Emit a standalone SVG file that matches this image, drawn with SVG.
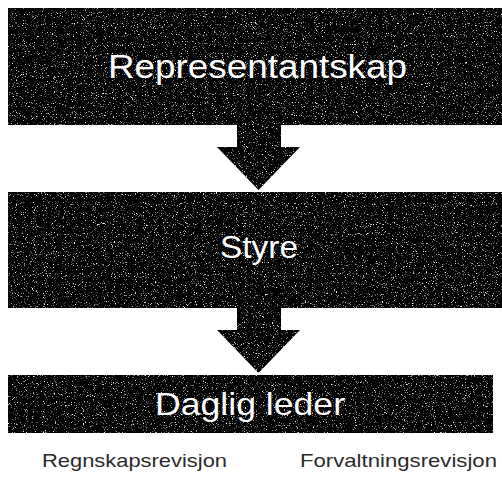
<svg xmlns="http://www.w3.org/2000/svg" width="502" height="477" viewBox="0 0 502 477">
<style>
.box{fill:#000}
.arr{fill:#000}
.t{font-family:"Liberation Sans",Arial,sans-serif;fill:#fff}
.lbl{font-family:"Liberation Sans",Arial,sans-serif;fill:#2a2a2a;font-size:19px}
</style>
<defs>
<filter id="speck" x="0" y="0" width="100%" height="100%" color-interpolation-filters="sRGB">
<feTurbulence type="fractalNoise" baseFrequency="0.9" numOctaves="2" seed="7" result="n"/>
<feColorMatrix in="n" type="matrix" values="0 0 0 0 1  0 0 0 0 1  0 0 0 0 1  1 0 0 0 0" result="w"/>
<feComponentTransfer in="w" result="d"><feFuncA type="linear" slope="5" intercept="-3.0"/></feComponentTransfer>
<feComposite in="d" in2="SourceAlpha" operator="in" result="dots"/>
<feMerge><feMergeNode in="SourceGraphic"/><feMergeNode in="dots"/></feMerge>
</filter>
</defs>
<rect width="502" height="477" fill="#fff"/>
<g id="connectors">
<polygon class="arr" filter="url(#speck)" points="237,124 281,124 281,147 300,147 258.5,190 217,147 237,147"/>
<polygon class="arr" filter="url(#speck)" points="237,307 281,307 281,330 300,330 258.5,373 217,330 237,330"/>
</g>
<g id="representantskap">
<rect class="box" filter="url(#speck)" x="8" y="8" width="494" height="117"/>
<text class="t" x="108" y="78" font-size="34" textLength="299" lengthAdjust="spacingAndGlyphs">Representantskap</text>
</g>
<g id="styre">
<rect class="box" filter="url(#speck)" x="8" y="192" width="494" height="116"/>
<text class="t" x="220" y="258" font-size="32" textLength="78" lengthAdjust="spacingAndGlyphs">Styre</text>
</g>
<g id="daglig-leder">
<rect class="box" filter="url(#speck)" x="8" y="375" width="485" height="58"/>
<text class="t" x="155" y="415" font-size="32" textLength="190" lengthAdjust="spacingAndGlyphs">Daglig leder</text>
</g>
<g id="labels">
<text class="lbl" x="42" y="467" textLength="185" lengthAdjust="spacingAndGlyphs">Regnskapsrevisjon</text>
<text class="lbl" x="300" y="467" textLength="197" lengthAdjust="spacingAndGlyphs">Forvaltningsrevisjon</text>
</g>
</svg>
